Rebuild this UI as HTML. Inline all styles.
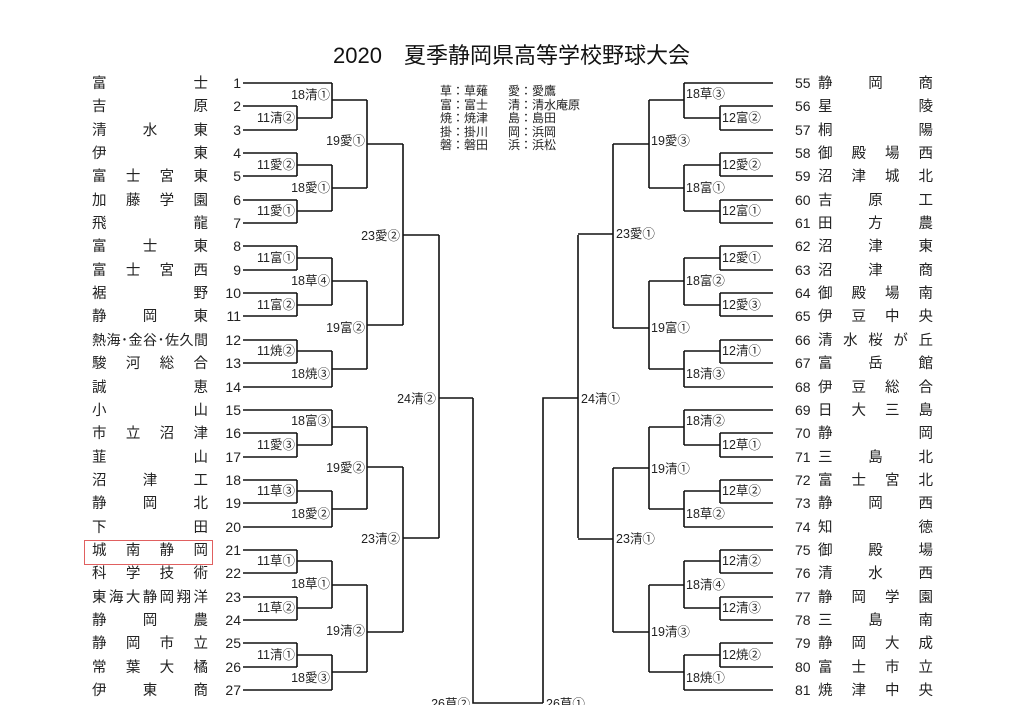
<!DOCTYPE html>
<html><head><meta charset="utf-8"><style>
body{margin:0;background:#fff;width:1024px;height:705px;overflow:hidden;position:relative;font-family:"Liberation Sans","Noto Sans CJK JP",sans-serif;color:#222}
.t{position:absolute;left:333px;top:38px;font-size:22px;white-space:nowrap;font-family:"Liberation Sans","Noto Sans CJK JP",sans-serif;color:#111}
.r{position:absolute;height:20px;line-height:20px;font-size:14.5px;display:flex;justify-content:space-between;font-family:"Noto Sans CJK JP",sans-serif}
.lg{position:absolute;left:440px;top:84px;font-size:12px;line-height:13.6px;font-family:"Noto Sans CJK JP",sans-serif}
.lg span{display:inline-block;width:68px}
</style></head><body>
<div class="t">2020　夏季静岡県高等学校野球大会</div>
<div class="lg"><span>草：草薙</span>愛：愛鷹<br><span>富：富士</span>清：清水庵原<br><span>焼：焼津</span>島：島田<br><span>掛：掛川</span>岡：浜岡<br><span>磐：磐田</span>浜：浜松</div>
<div style="position:absolute;left:84px;top:540px;width:127px;height:23px;border:1px solid #e06060"></div>

<div class="r" style="left:92px;width:116px;top:73px"><span>富</span><span>士</span></div>
<svg width="1024" height="705" style="position:absolute;left:0;top:0" font-family="Liberation Sans, Noto Sans CJK JP, sans-serif" font-size="12.5" fill="#222">
<g stroke="#111" stroke-width="1.6" fill="none">
<path d="M243 83H332M243 106H297M243 130H297M243 153H297M243 176H297M243 200H297M243 223H297M243 246H297M243 270H297M243 293H297M243 316H297M243 340H297M243 363H297M243 387H332M243 410H332M243 433H297M243 457H297M243 480H297M243 503H297M243 527H332M243 550H297M243 573H297M243 597H297M243 620H297M243 643H297M243 667H297M243 690H332"/>
<path d="M297 106V130M297 118H332M297 153V176M297 165H332M297 200V223M297 211H332M297 246V270M297 258H332M297 293V316M297 305H332M297 340V363M297 351H332M297 433V457M297 445H332M297 480V503M297 491H332M297 550V573M297 561H332M297 597V620M297 608H332M297 643V667M297 655H332"/>
<path d="M332 83V118M332 100H367M332 165V211M332 188H367M332 258V305M332 281H367M332 351V387M332 369H367M332 410V445M332 427H367M332 491V527M332 509H367M332 561V608M332 585H367M332 655V690M332 672H367"/>
<path d="M367 100V188M367 144H403M367 281V369M367 325H403M367 427V509M367 467H403M367 585V672M367 632H403"/>
<path d="M403 144V325M403 235H439M403 467V632M403 538H439M439 235V538M439 398H473M473 398V703H543M543 703V398H578M578 235V538"/>
<path d="M773 83H684M773 106H720M773 130H720M773 153H720M773 176H720M773 200H720M773 223H720M773 246H720M773 270H720M773 293H720M773 316H720M773 340H720M773 363H720M773 387H684M773 410H684M773 433H720M773 457H720M773 480H720M773 503H720M773 527H684M773 550H720M773 573H720M773 597H720M773 620H720M773 643H720M773 667H720M773 690H684"/>
<path d="M720 106V130M720 118H684M720 153V176M720 165H684M720 200V223M720 211H684M720 246V270M720 258H684M720 293V316M720 305H684M720 340V363M720 351H684M720 433V457M720 445H684M720 480V503M720 491H684M720 550V573M720 561H684M720 597V620M720 608H684M720 643V667M720 655H684"/>
<path d="M684 83V118M684 100H649M684 165V211M684 188H649M684 258V305M684 281H649M684 351V387M684 369H649M684 410V445M684 427H649M684 491V527M684 509H649M684 561V608M684 585H649M684 655V690M684 672H649"/>
<path d="M649 100V188M649 144H613M649 281V369M649 328H613M649 427V509M649 468H613M649 585V672M649 632H613"/>
<path d="M613 144V328M613 234H578M613 468V632M613 539H578"/>
</g>
<g text-anchor="end">
<text x="295" y="122">11清②</text><text x="295" y="169">11愛②</text><text x="295" y="215">11愛①</text>
<text x="295" y="262">11富①</text><text x="295" y="309">11富②</text><text x="295" y="355">11焼②</text>
<text x="295" y="449">11愛③</text><text x="295" y="495">11草③</text><text x="295" y="565">11草①</text>
<text x="295" y="612">11草②</text><text x="295" y="659">11清①</text>
<text x="330" y="99">18清①</text><text x="330" y="192">18愛①</text><text x="330" y="285">18草④</text>
<text x="330" y="378">18焼③</text><text x="330" y="425">18富③</text><text x="330" y="518">18愛②</text>
<text x="330" y="588">18草①</text><text x="330" y="682">18愛③</text>
<text x="365" y="145">19愛①</text><text x="365" y="332">19富②</text><text x="365" y="472">19愛②</text><text x="365" y="635">19清②</text>
<text x="400" y="240">23愛②</text><text x="400" y="543">23清②</text><text x="436" y="403">24清②</text>
<text x="470" y="708">26草②</text>
</g>
<g>
<text x="722" y="122">12富②</text><text x="722" y="169">12愛②</text><text x="722" y="215">12富①</text>
<text x="722" y="262">12愛①</text><text x="722" y="309">12愛③</text><text x="722" y="355">12清①</text>
<text x="722" y="449">12草①</text><text x="722" y="495">12草②</text><text x="722" y="565">12清②</text>
<text x="722" y="612">12清③</text><text x="722" y="659">12焼②</text>
<text x="686" y="98">18草③</text><text x="686" y="192">18富①</text><text x="686" y="285">18富②</text>
<text x="686" y="378">18清③</text><text x="686" y="425">18清②</text><text x="686" y="518">18草②</text>
<text x="686" y="589">18清④</text><text x="686" y="682">18焼①</text>
<text x="651" y="145">19愛③</text><text x="651" y="332">19富①</text><text x="651" y="473">19清①</text><text x="651" y="636">19清③</text>
<text x="616" y="238">23愛①</text><text x="616" y="543">23清①</text><text x="581" y="403">24清①</text>
<text x="546" y="708">26草①</text>
</g>
<g font-size="14" text-anchor="end">
<text x="241" y="88">1</text><text x="241" y="111">2</text><text x="241" y="135">3</text><text x="241" y="158">4</text><text x="241" y="181">5</text><text x="241" y="205">6</text><text x="241" y="228">7</text><text x="241" y="251">8</text><text x="241" y="275">9</text><text x="241" y="298">10</text><text x="241" y="321">11</text><text x="241" y="345">12</text><text x="241" y="368">13</text><text x="241" y="392">14</text><text x="241" y="415">15</text><text x="241" y="438">16</text><text x="241" y="462">17</text><text x="241" y="485">18</text><text x="241" y="508">19</text><text x="241" y="532">20</text><text x="241" y="555">21</text><text x="241" y="578">22</text><text x="241" y="602">23</text><text x="241" y="625">24</text><text x="241" y="648">25</text><text x="241" y="672">26</text><text x="241" y="695">27</text>
</g>
<g font-size="14">
<text x="795" y="88">55</text><text x="795" y="111">56</text><text x="795" y="135">57</text><text x="795" y="158">58</text><text x="795" y="181">59</text><text x="795" y="205">60</text><text x="795" y="228">61</text><text x="795" y="251">62</text><text x="795" y="275">63</text><text x="795" y="298">64</text><text x="795" y="321">65</text><text x="795" y="345">66</text><text x="795" y="368">67</text><text x="795" y="392">68</text><text x="795" y="415">69</text><text x="795" y="438">70</text><text x="795" y="462">71</text><text x="795" y="485">72</text><text x="795" y="508">73</text><text x="795" y="532">74</text><text x="795" y="555">75</text><text x="795" y="578">76</text><text x="795" y="602">77</text><text x="795" y="625">78</text><text x="795" y="648">79</text><text x="795" y="672">80</text><text x="795" y="695">81</text>
</g>
</svg>

<div class="r" style="left:92px;width:116px;top:96px"><span>吉</span><span>原</span></div>
<div class="r" style="left:92px;width:116px;top:120px"><span>清</span><span>水</span><span>東</span></div>
<div class="r" style="left:92px;width:116px;top:143px"><span>伊</span><span>東</span></div>
<div class="r" style="left:92px;width:116px;top:166px"><span>富</span><span>士</span><span>宮</span><span>東</span></div>
<div class="r" style="left:92px;width:116px;top:190px"><span>加</span><span>藤</span><span>学</span><span>園</span></div>
<div class="r" style="left:92px;width:116px;top:213px"><span>飛</span><span>龍</span></div>
<div class="r" style="left:92px;width:116px;top:236px"><span>富</span><span>士</span><span>東</span></div>
<div class="r" style="left:92px;width:116px;top:260px"><span>富</span><span>士</span><span>宮</span><span>西</span></div>
<div class="r" style="left:92px;width:116px;top:283px"><span>裾</span><span>野</span></div>
<div class="r" style="left:92px;width:116px;top:306px"><span>静</span><span>岡</span><span>東</span></div>
<div class="r" style="left:92px;width:116px;top:330px;font-size:14px"><span>熱</span><span>海</span><span>･</span><span>金</span><span>谷</span><span>･</span><span>佐</span><span>久</span><span>間</span></div>
<div class="r" style="left:92px;width:116px;top:353px"><span>駿</span><span>河</span><span>総</span><span>合</span></div>
<div class="r" style="left:92px;width:116px;top:377px"><span>誠</span><span>恵</span></div>
<div class="r" style="left:92px;width:116px;top:400px"><span>小</span><span>山</span></div>
<div class="r" style="left:92px;width:116px;top:423px"><span>市</span><span>立</span><span>沼</span><span>津</span></div>
<div class="r" style="left:92px;width:116px;top:447px"><span>韮</span><span>山</span></div>
<div class="r" style="left:92px;width:116px;top:470px"><span>沼</span><span>津</span><span>工</span></div>
<div class="r" style="left:92px;width:116px;top:493px"><span>静</span><span>岡</span><span>北</span></div>
<div class="r" style="left:92px;width:116px;top:517px"><span>下</span><span>田</span></div>
<div class="r" style="left:92px;width:116px;top:540px"><span>城</span><span>南</span><span>静</span><span>岡</span></div>
<div class="r" style="left:92px;width:116px;top:563px"><span>科</span><span>学</span><span>技</span><span>術</span></div>
<div class="r" style="left:92px;width:116px;top:587px"><span>東</span><span>海</span><span>大</span><span>静</span><span>岡</span><span>翔</span><span>洋</span></div>
<div class="r" style="left:92px;width:116px;top:610px"><span>静</span><span>岡</span><span>農</span></div>
<div class="r" style="left:92px;width:116px;top:633px"><span>静</span><span>岡</span><span>市</span><span>立</span></div>
<div class="r" style="left:92px;width:116px;top:657px"><span>常</span><span>葉</span><span>大</span><span>橘</span></div>
<div class="r" style="left:92px;width:116px;top:680px"><span>伊</span><span>東</span><span>商</span></div>

<div class="r" style="left:818px;width:115px;top:73px"><span>静</span><span>岡</span><span>商</span></div>
<div class="r" style="left:818px;width:115px;top:96px"><span>星</span><span>陵</span></div>
<div class="r" style="left:818px;width:115px;top:120px"><span>桐</span><span>陽</span></div>
<div class="r" style="left:818px;width:115px;top:143px"><span>御</span><span>殿</span><span>場</span><span>西</span></div>
<div class="r" style="left:818px;width:115px;top:166px"><span>沼</span><span>津</span><span>城</span><span>北</span></div>
<div class="r" style="left:818px;width:115px;top:190px"><span>吉</span><span>原</span><span>工</span></div>
<div class="r" style="left:818px;width:115px;top:213px"><span>田</span><span>方</span><span>農</span></div>
<div class="r" style="left:818px;width:115px;top:236px"><span>沼</span><span>津</span><span>東</span></div>
<div class="r" style="left:818px;width:115px;top:260px"><span>沼</span><span>津</span><span>商</span></div>
<div class="r" style="left:818px;width:115px;top:283px"><span>御</span><span>殿</span><span>場</span><span>南</span></div>
<div class="r" style="left:818px;width:115px;top:306px"><span>伊</span><span>豆</span><span>中</span><span>央</span></div>
<div class="r" style="left:818px;width:115px;top:330px"><span>清</span><span>水</span><span>桜</span><span>が</span><span>丘</span></div>
<div class="r" style="left:818px;width:115px;top:353px"><span>富</span><span>岳</span><span>館</span></div>
<div class="r" style="left:818px;width:115px;top:377px"><span>伊</span><span>豆</span><span>総</span><span>合</span></div>
<div class="r" style="left:818px;width:115px;top:400px"><span>日</span><span>大</span><span>三</span><span>島</span></div>
<div class="r" style="left:818px;width:115px;top:423px"><span>静</span><span>岡</span></div>
<div class="r" style="left:818px;width:115px;top:447px"><span>三</span><span>島</span><span>北</span></div>
<div class="r" style="left:818px;width:115px;top:470px"><span>富</span><span>士</span><span>宮</span><span>北</span></div>
<div class="r" style="left:818px;width:115px;top:493px"><span>静</span><span>岡</span><span>西</span></div>
<div class="r" style="left:818px;width:115px;top:517px"><span>知</span><span>徳</span></div>
<div class="r" style="left:818px;width:115px;top:540px"><span>御</span><span>殿</span><span>場</span></div>
<div class="r" style="left:818px;width:115px;top:563px"><span>清</span><span>水</span><span>西</span></div>
<div class="r" style="left:818px;width:115px;top:587px"><span>静</span><span>岡</span><span>学</span><span>園</span></div>
<div class="r" style="left:818px;width:115px;top:610px"><span>三</span><span>島</span><span>南</span></div>
<div class="r" style="left:818px;width:115px;top:633px"><span>静</span><span>岡</span><span>大</span><span>成</span></div>
<div class="r" style="left:818px;width:115px;top:657px"><span>富</span><span>士</span><span>市</span><span>立</span></div>
<div class="r" style="left:818px;width:115px;top:680px"><span>焼</span><span>津</span><span>中</span><span>央</span></div>
</body></html>
